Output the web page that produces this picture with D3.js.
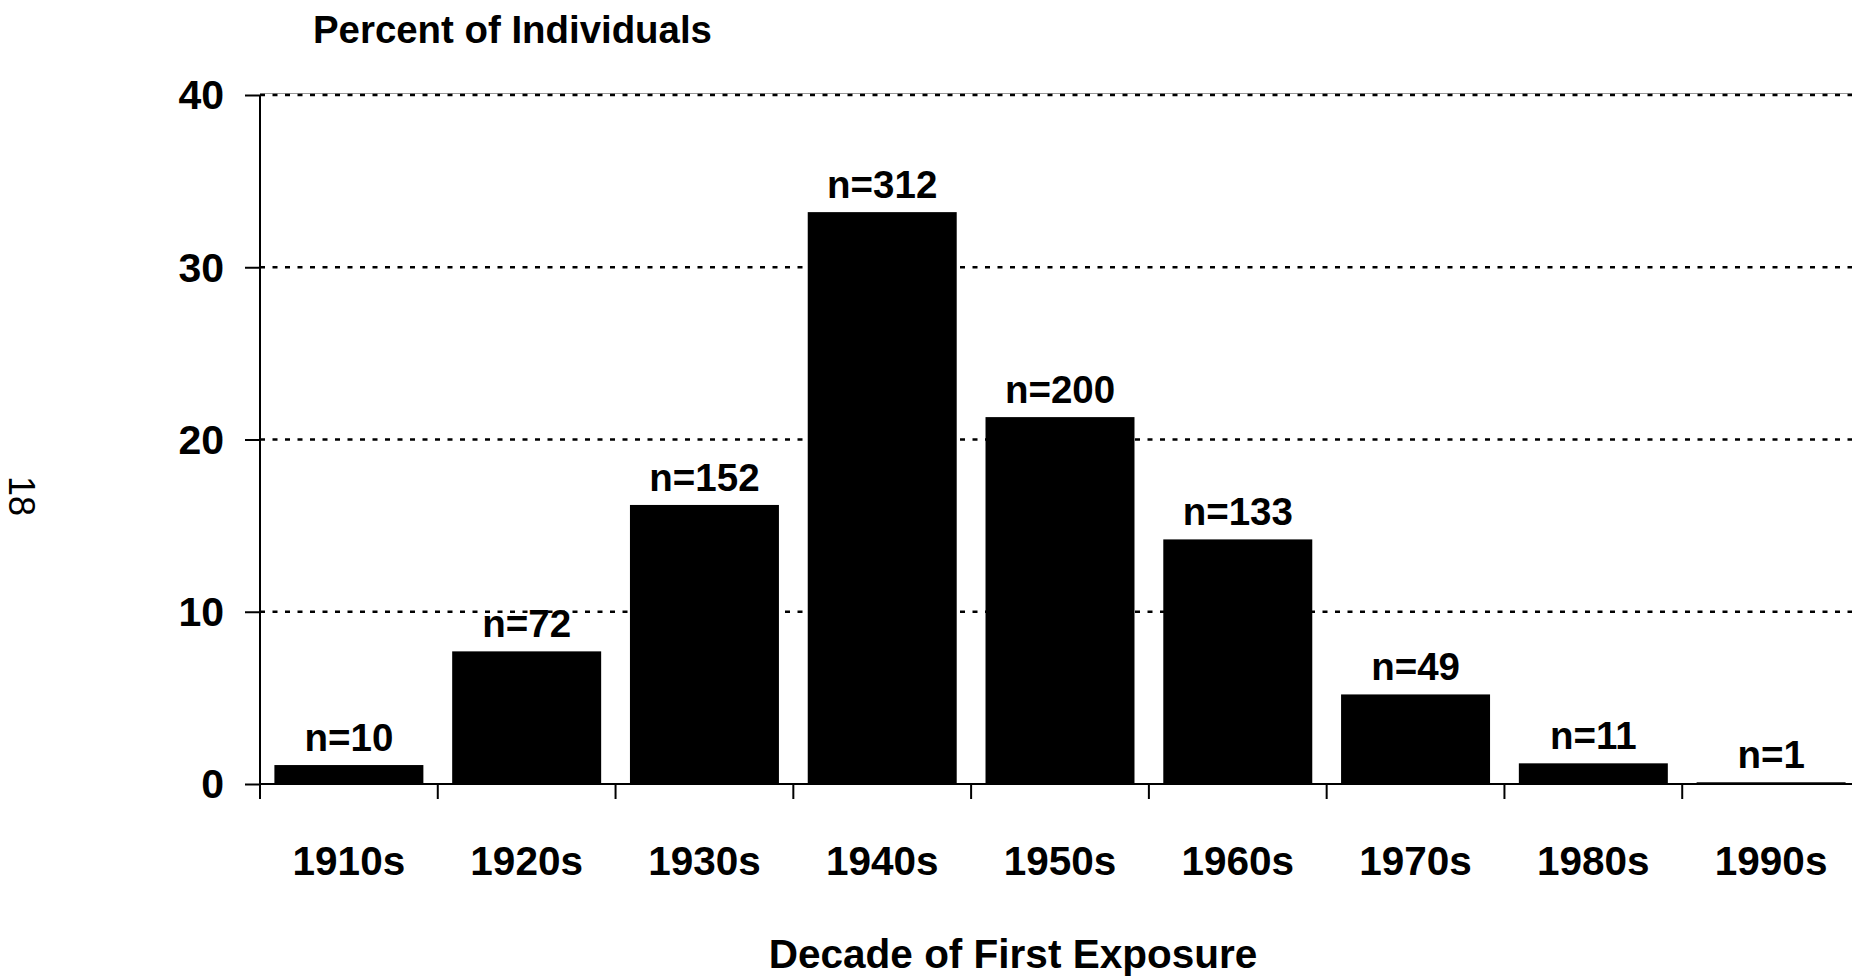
<!DOCTYPE html>
<html>
<head>
<meta charset="utf-8">
<script src="https://cdn.jsdelivr.net/npm/d3@7"></script>
<style>
  html, body { margin: 0; padding: 0; background: #fff; }
  svg { display: block; }
  text { font-family: "Liberation Sans", Arial, sans-serif; font-weight: 700; fill: #000; }
</style>
</head>
<body>
<script>
// data
var decades = ["1910s", "1920s", "1930s", "1940s", "1950s", "1960s", "1970s", "1980s", "1990s"];
var percents = [1.1, 7.7, 16.2, 33.2, 21.3, 14.2, 5.2, 1.2, 0.1];
var counts = [10, 72, 152, 312, 200, 133, 49, 11, 1];
var yTicks = [0, 10, 20, 30, 40];

var width = 1852,
    height = 978;
var plotLeft = 260,
    plotRight = 1860,   // plot runs a little past the window edge
    plotTop = 95,
    plotBottom = 784;

var svg = d3.select("body")
    .append("svg")
    .attr("width", width)
    .attr("height", height);

var x = d3.scaleBand()
    .domain(decades)
    .range([plotLeft, plotRight])
    .paddingInner(0.162)
    .paddingOuter(0.081);

var y = d3.scaleLinear()
    .domain([0, 40])
    .range([plotBottom, plotTop]);

// plot area top border
svg.append("line")
    .attr("x1", plotLeft).attr("x2", width)
    .attr("y1", plotTop - 1.5).attr("y2", plotTop - 1.5)
    .style("stroke", "#999")
    .style("stroke-width", 1);

// dotted gridlines
svg.append("g")
    .selectAll("line")
    .data(yTicks.filter(function (d) { return d > 0; }))
    .enter()
    .append("line")
    .attr("x1", plotLeft).attr("x2", width)
    .attr("y1", function (d) { return y(d); })
    .attr("y2", function (d) { return y(d); })
    .style("stroke", "#000")
    .style("stroke-width", 2.5)
    .style("stroke-dasharray", "5,7.5");

// bars
svg.append("g")
    .selectAll("rect")
    .data(decades)
    .enter()
    .append("rect")
    .attr("x", function (d) { return x(d); })
    .attr("y", function (d, i) { return y(percents[i]); })
    .attr("width", x.bandwidth())
    .attr("height", function (d, i) { return plotBottom - y(percents[i]); })
    .style("fill", "#000");

// n= labels
svg.append("g")
    .selectAll("text")
    .data(decades)
    .enter()
    .append("text")
    .attr("x", function (d) { return x(d) + x.bandwidth() / 2; })
    .attr("y", function (d, i) { return y(percents[i]) - 14; })
    .attr("text-anchor", "middle")
    .style("font-size", "38.5px")
    .text(function (d, i) { return "n=" + counts[i]; });

// y axis
var yAxis = d3.axisLeft(y)
    .tickValues(yTicks)
    .tickSize(15)
    .tickPadding(21);
var gy = svg.append("g")
    .attr("transform", "translate(" + plotLeft + ",0)")
    .call(yAxis);
gy.select(".domain").attr("d", "M0," + plotTop + "V" + plotBottom)
    .style("stroke-width", 2);
gy.selectAll(".tick line").style("stroke-width", 2);
gy.selectAll(".tick text")
    .style("font-size", "41px")
    .style("font-family", "'Liberation Sans', Arial, sans-serif")
    .style("font-weight", 700)
    .attr("dy", "0.34em");

// x axis: ticks sit between the bands
var gx = svg.append("g")
    .attr("transform", "translate(0," + plotBottom + ")");
gx.append("line")
    .attr("x1", plotLeft).attr("x2", width)
    .style("stroke", "#000")
    .style("stroke-width", 2);
gx.selectAll(".sep")
    .data(decades)
    .enter()
    .append("line")
    .attr("class", "sep")
    .attr("x1", function (d) { return x(d) - x.step() * x.paddingInner() / 2; })
    .attr("x2", function (d) { return x(d) - x.step() * x.paddingInner() / 2; })
    .attr("y1", 0).attr("y2", 15)
    .style("stroke", "#000")
    .style("stroke-width", 2);
gx.selectAll(".lbl")
    .data(decades)
    .enter()
    .append("text")
    .attr("class", "lbl")
    .attr("x", function (d) { return x(d) + x.bandwidth() / 2; })
    .attr("y", 91)
    .attr("text-anchor", "middle")
    .style("font-size", "40.5px")
    .text(function (d) { return d; });

// axis titles
svg.append("text")
    .attr("x", 313)
    .attr("y", 43)
    .style("font-size", "38.4px")
    .text("Percent of Individuals");

svg.append("text")
    .attr("x", 1013)
    .attr("y", 968)
    .attr("text-anchor", "middle")
    .style("font-size", "40.5px")
    .text("Decade of First Exposure");

// page number on the side
svg.append("text")
    .attr("transform", "translate(9,496) rotate(90)")
    .attr("text-anchor", "middle")
    .style("font-size", "36px")
    .style("font-weight", 400)
    .text("18");
</script>
</body>
</html>
